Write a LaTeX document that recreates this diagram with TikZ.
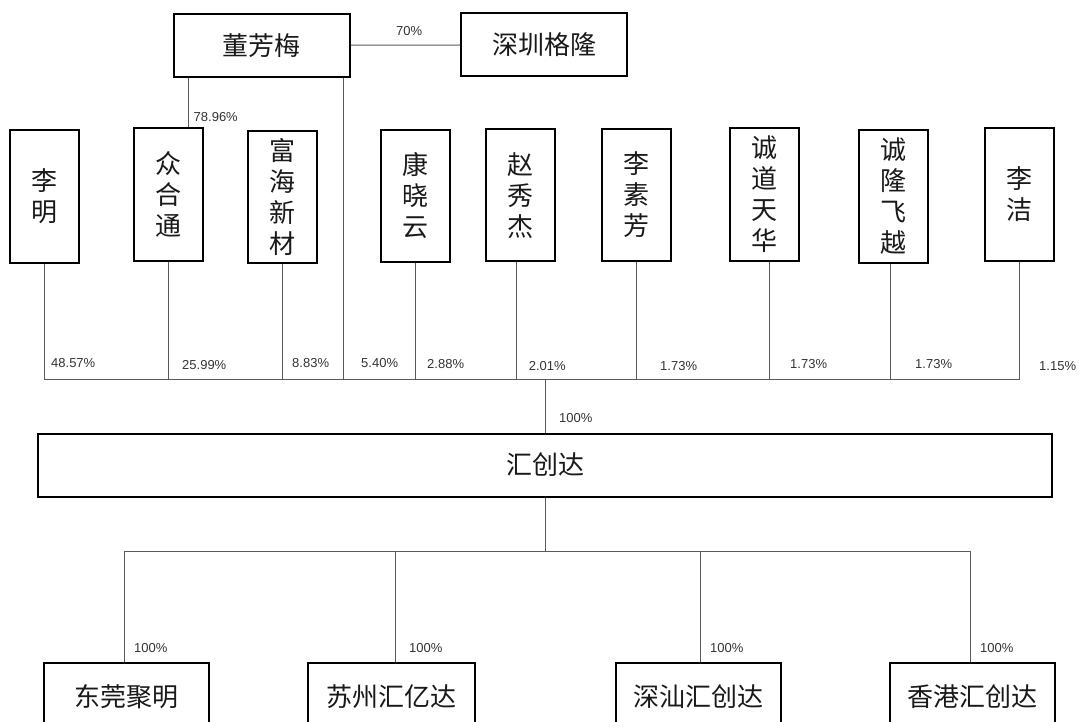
\documentclass[tikz,border=0pt]{standalone}
\usepackage{fontspec}
\setmainfont{Liberation Sans}
\newfontfamily\cjk{Noto Sans CJK SC}
\begin{document}
\begin{tikzpicture}[x=1pt,y=-1pt,
  box/.style={draw=black, line width=2pt, inner sep=0pt, align=center,
    font=\cjk\fontsize{26}{31}\selectfont, text=black!90},
  hbox/.style={box, minimum width=#1, minimum height=63pt},
  vbox/.style={box, minimum width=69pt, minimum height=132pt},
  conn/.style={draw=black!65, line width=1pt},
  pct/.style={anchor=west, inner sep=0pt, text=black!80, font=\fontsize{13}{15}\selectfont}]
\useasboundingbox (0,0) rectangle (1081,722);
\clip (0,0) rectangle (1081,722);
% top
\node[hbox=175.5pt] (dong) at (261.75,45.2) {董芳梅};
\node[hbox=165.6pt] (sz) at (544.2,45) {深圳格隆};
% shareholders
\node[vbox] (liming) at (44.25,196.5) {李\\明};
\node[vbox] (zht) at (168.5,194.5) {众\\合\\通};
\node[vbox] (fhxc) at (282.5,196.7) {富\\海\\新\\材};
\node[vbox] (kxy) at (415.25,195.7) {康\\晓\\云};
\node[vbox] (zxj) at (520.75,195.3) {赵\\秀\\杰};
\node[vbox] (lsf) at (636.5,195) {李\\素\\芳};
\node[vbox] (cdth) at (764.75,194.5) {诚\\道\\天\\华};
\node[vbox] (clfy) at (893,196.5) {诚\\隆\\飞\\越};
\node[vbox] (lj) at (1019.5,194.5) {李\\洁};
% company
\node[hbox=1014pt] (hcd) at (545,465) {汇创达};
% subsidiaries
\node[box, minimum width=165pt, minimum height=67pt] (dgjm) at (126.5,696.5) {东莞聚明};
\node[box, minimum width=167pt, minimum height=67pt] (szhyd) at (391,696.5) {苏州汇亿达};
\node[box, minimum width=165pt, minimum height=67pt] (shhcd) at (698.5,696.5) {深汕汇创达};
\node[box, minimum width=165pt, minimum height=67pt] (xghcd) at (972.5,696.5) {香港汇创达};
% buses
\coordinate (busL) at (44.8,379.5);
\coordinate (busR) at (1019.5,379.5);
\coordinate (bus2) at (0,551);
% connectors
\draw[conn] (dong.east) -- (sz.west);
\draw[conn] ([xshift=20.2pt]zht.north) -- ([xshift=20.2pt]zht.north |- dong.south);
\draw[conn] ([xshift=81.25pt]dong.south) -- ([xshift=81.25pt]dong.south |- busL);
\draw[conn] (busL) -- (busR);
\draw[conn] (liming.south) -- (liming.south |- busL);
\draw[conn] (zht.south) -- (zht.south |- busL);
\draw[conn] (fhxc.south) -- (fhxc.south |- busL);
\draw[conn] (kxy.south) -- (kxy.south |- busL);
\draw[conn] ([xshift=-4.75pt]zxj.south) -- ([xshift=-4.75pt]zxj.south |- busL);
\draw[conn] (lsf.south) -- (lsf.south |- busL);
\draw[conn] ([xshift=4.75pt]cdth.south) -- ([xshift=4.75pt]cdth.south |- busL);
\draw[conn] ([xshift=-3pt]clfy.south) -- ([xshift=-3pt]clfy.south |- busL);
\draw[conn] (lj.south) -- (lj.south |- busL);
\draw[conn] (hcd.north) -- (hcd.north |- busL);
\draw[conn] (hcd.south) -- (hcd.south |- bus2);
\draw[conn] ([xshift=-2.5pt]dgjm.north |- bus2) -- ([xshift=-2.5pt]xghcd.north |- bus2);
\draw[conn] ([xshift=-2.5pt]dgjm.north) -- ([xshift=-2.5pt]dgjm.north |- bus2);
\draw[conn] ([xshift=4pt]szhyd.north) -- ([xshift=4pt]szhyd.north |- bus2);
\draw[conn] ([xshift=2pt]shhcd.north) -- ([xshift=2pt]shhcd.north |- bus2);
\draw[conn] ([xshift=-2.5pt]xghcd.north) -- ([xshift=-2.5pt]xghcd.north |- bus2);
% labels
\node[pct] (p70) at (396,31) {70\%};
\node[pct] (p7896) at (193.5,117.3) {78.96\%};
\node[pct] (p4857) at (51,363.3) {48.57\%};
\node[pct] (p2599) at (182,365) {25.99\%};
\node[pct] (p883) at (292,363.3) {8.83\%};
\node[pct] (p540) at (361,363.3) {5.40\%};
\node[pct] (p288) at (427,364) {2.88\%};
\node[pct] (p201) at (528.6,366) {2.01\%};
\node[pct] (p173a) at (660,366) {1.73\%};
\node[pct] (p173b) at (790,364) {1.73\%};
\node[pct] (p173c) at (915,364) {1.73\%};
\node[pct] (p115) at (1039,366) {1.15\%};
\node[pct] (p100) at (559,418.3) {100\%};
\node[pct] (q1) at (134,648.3) {100\%};
\node[pct] (q2) at (409,648.3) {100\%};
\node[pct] (q3) at (710,648.3) {100\%};
\node[pct] (q4) at (980,648.3) {100\%};
\end{tikzpicture}
\end{document}
